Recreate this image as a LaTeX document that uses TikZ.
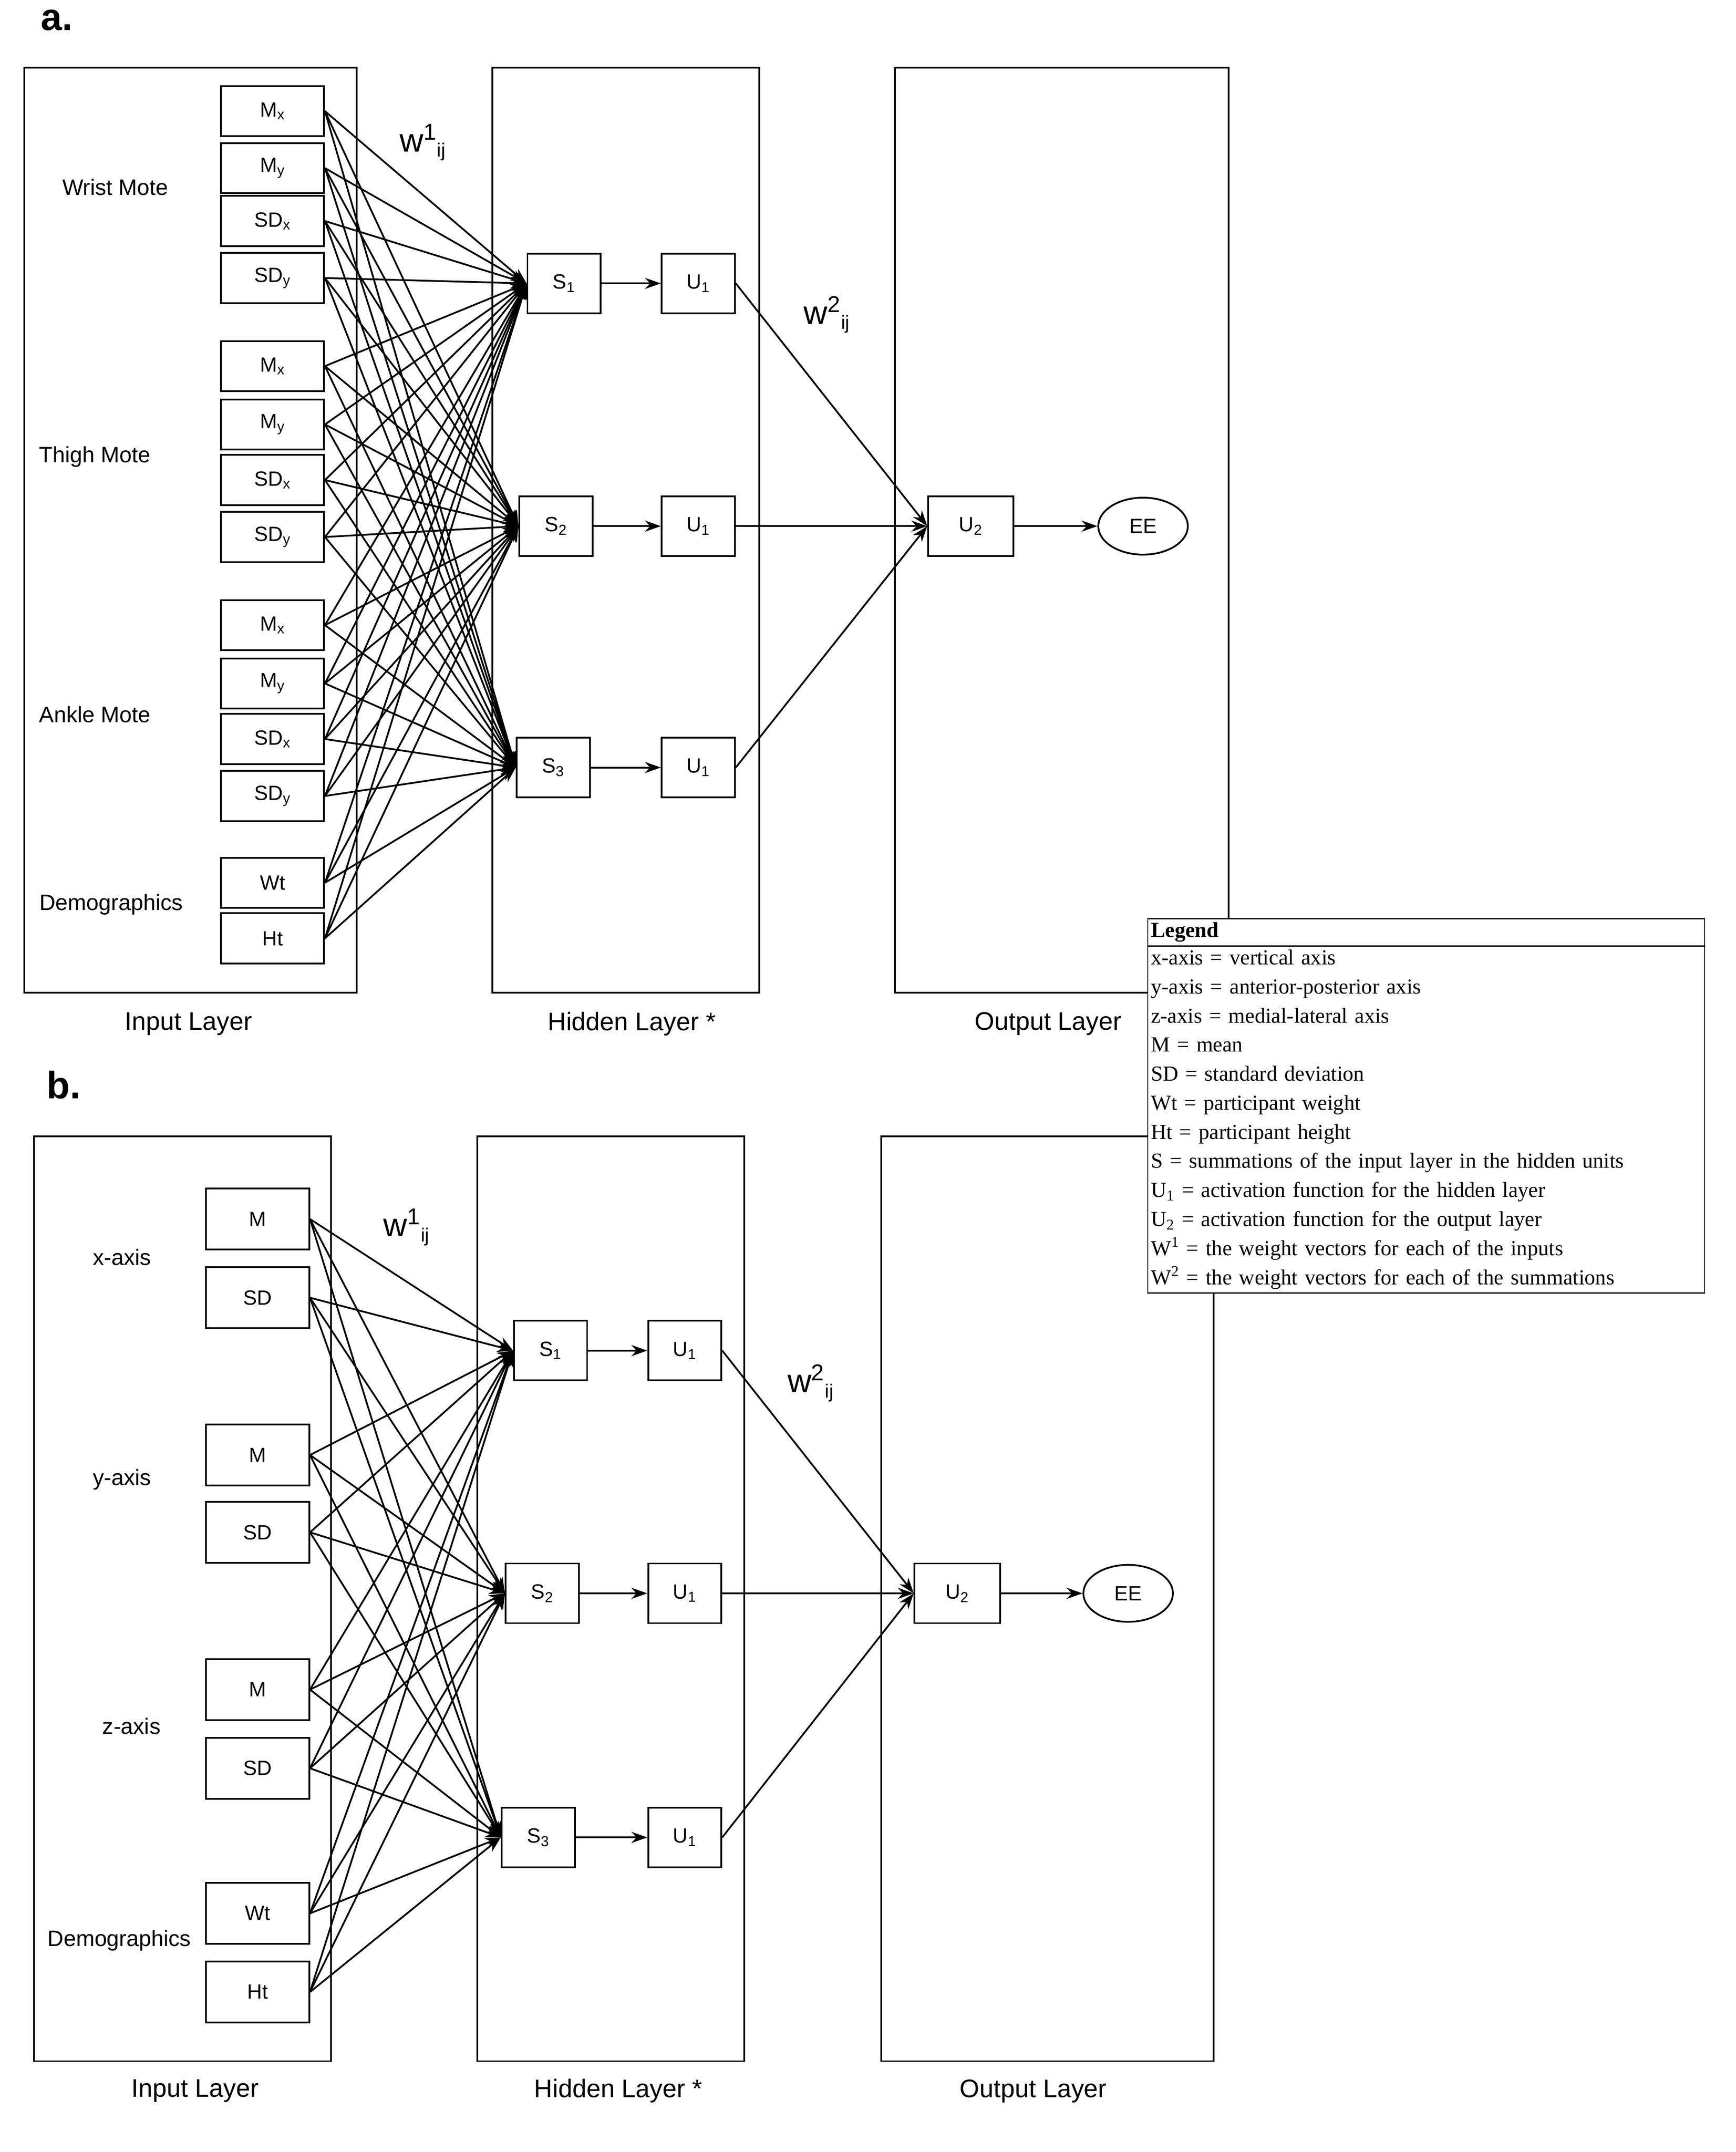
\documentclass[tikz,border=0pt]{standalone}
\usepackage{fontspec}
\setmainfont{Liberation Sans}
\newfontfamily\legendfont{Liberation Serif}
\usetikzlibrary{arrows.meta,shapes.multipart,shapes.geometric}
\newcommand{\sub}[2]{#1\textsubscript{#2}}
\newcommand{\wgt}[1]{\huge w\textsuperscript{#1}\textsubscript{\large ij}}
\begin{document}
\begin{tikzpicture}[x=0.03cm,y=-0.03cm,line width=1.1pt,
  inbox/.style={draw,minimum width=76*0.03cm,minimum height=37*0.03cm,font=\fontsize{13}{15}\selectfont},
  inboxb/.style={inbox,minimum height=45*0.03cm},
  unit/.style={draw,minimum width=54*0.03cm,minimum height=44*0.03cm,font=\fontsize{13}{15}\selectfont},
  outunit/.style={unit,minimum width=63*0.03cm},
  ee/.style={draw,ellipse,minimum width=66*0.03cm,minimum height=42*0.03cm,font=\fontsize{13}{15}\selectfont},
  grp/.style={font=\fontsize{14}{16}\selectfont},
  lay/.style={font=\fontsize{16}{18}\selectfont},
  arr/.style={-{Stealth[length=10pt,width=7pt]}}]
\useasboundingbox (0,0) rectangle (1280,1587);
% panel a
\node[font=\bfseries\fontsize{24}{26}\selectfont] (pa) at (42,15) {a.};
\draw (18,50) rectangle (263,732);
\draw (363,50) rectangle (560,732);
\draw (660,50) rectangle (906,732);
\foreach \y/\t [count=\i] in {82/\sub{M}{x},124/\sub{M}{y},163/\sub{SD}{x},205/\sub{SD}{y},
  270/\sub{M}{x},313/\sub{M}{y},354/\sub{SD}{x},396/\sub{SD}{y},
  461/\sub{M}{x},504/\sub{M}{y},545/\sub{SD}{x},587/\sub{SD}{y},651/Wt,692/Ht}
  \node[inbox] (ina\i) at (201,\y) {\t};
\node[grp] (wrist) at (85,138) {Wrist Mote};
\node[grp] (thigh) at (70,337) {Thigh Mote};
\node[grp] (ankle) at (70,527) {Ankle Mote};
\node[grp] (demoa) at (82,667) {Demographics};
\node[unit] (sa1) at (416,209) {\sub{S}{1}};
\node[unit] (sa2) at (410,388) {\sub{S}{2}};
\node[unit] (sa3) at (408,566) {\sub{S}{3}};
\foreach \y [count=\j] in {209,388,566}
  \node[unit] (ua\j) at (515,\y) {\sub{U}{1}};
\node[outunit] (u2a) at (716,388) {\sub{U}{2}};
\node[ee] (eea) at (843,388) {EE};
\foreach \i in {1,...,14}
  \foreach \j in {1,2,3}
    \draw[arr] (ina\i.east) -- (sa\j.west);
\foreach \j in {1,2,3}{
  \draw[arr] (sa\j) -- (ua\j);
  \draw[arr] (ua\j.east) -- (u2a.west);}
\draw[arr] (u2a) -- (eea);
\node (w1a) at (312,105) {\wgt{1}};
\node (w2a) at (610,232) {\wgt{2}};
\node[lay] (ila) at (139,755) {Input Layer};
\node[lay] (hla) at (466,755) {Hidden Layer *};
\node[lay] (ola) at (773,755) {Output Layer};
% panel b
\node[font=\bfseries\fontsize{24}{26}\selectfont] (pb) at (47,800) {b.};
\draw (25,838) rectangle (244,1520);
\draw (352,838) rectangle (549,1520);
\draw (650,838) rectangle (895,1520);
\foreach \y/\t [count=\i] in {899/M,957/SD,1073/M,1130/SD,1246/M,1304/SD,1411/Wt,1469/Ht}
  \node[inboxb] (inb\i) at (190,\y) {\t};
\node[grp] (xax) at (90,927) {x-axis};
\node[grp] (yax) at (90,1091) {y-axis};
\node[grp] (zax) at (97,1273) {z-axis};
\node[grp] (demob) at (88,1431) {Demographics};
\node[unit] (sb1) at (406,996) {\sub{S}{1}};
\node[unit] (sb2) at (400,1175) {\sub{S}{2}};
\node[unit] (sb3) at (397,1355) {\sub{S}{3}};
\foreach \y [count=\j] in {996,1175,1355}
  \node[unit] (ub\j) at (505,\y) {\sub{U}{1}};
\node[outunit] (u2b) at (706,1175) {\sub{U}{2}};
\node[ee] (eeb) at (832,1175) {EE};
\foreach \i in {1,...,8}
  \foreach \j in {1,2,3}
    \draw[arr] (inb\i.east) -- (sb\j.west);
\foreach \j in {1,2,3}{
  \draw[arr] (sb\j) -- (ub\j);
  \draw[arr] (ub\j.east) -- (u2b.west);}
\draw[arr] (u2b) -- (eeb);
\node (w1b) at (300,905) {\wgt{1}};
\node (w2b) at (598,1020) {\wgt{2}};
\node[lay] (ilb) at (144,1542) {Input Layer};
\node[lay] (hlb) at (456,1542) {Hidden Layer *};
\node[lay] (olb) at (762,1542) {Output Layer};
% legend
\node[draw,fill=white,rectangle split,rectangle split parts=2,anchor=north west,
  text width=406*0.03cm,align=left,inner sep=2pt,font=\legendfont\fontsize{13.5}{18.3}\selectfont,
  line width=0.8pt] (legend) at (846,677) {\textbf{Legend}
  \nodepart{two}x-axis = vertical axis\\
  y-axis = anterior-posterior axis\\
  z-axis = medial-lateral axis\\
  M = mean\\
  SD = standard deviation\\
  Wt = participant weight\\
  Ht = participant height\\
  S = summations of the input layer in the hidden units\\
  U\textsubscript{1} = activation function for the hidden layer\\
  U\textsubscript{2} = activation function for the output layer\\
  W\textsuperscript{1} = the weight vectors for each of the inputs\\
  W\textsuperscript{2} = the weight vectors for each of the summations};
\end{tikzpicture}
\end{document}
